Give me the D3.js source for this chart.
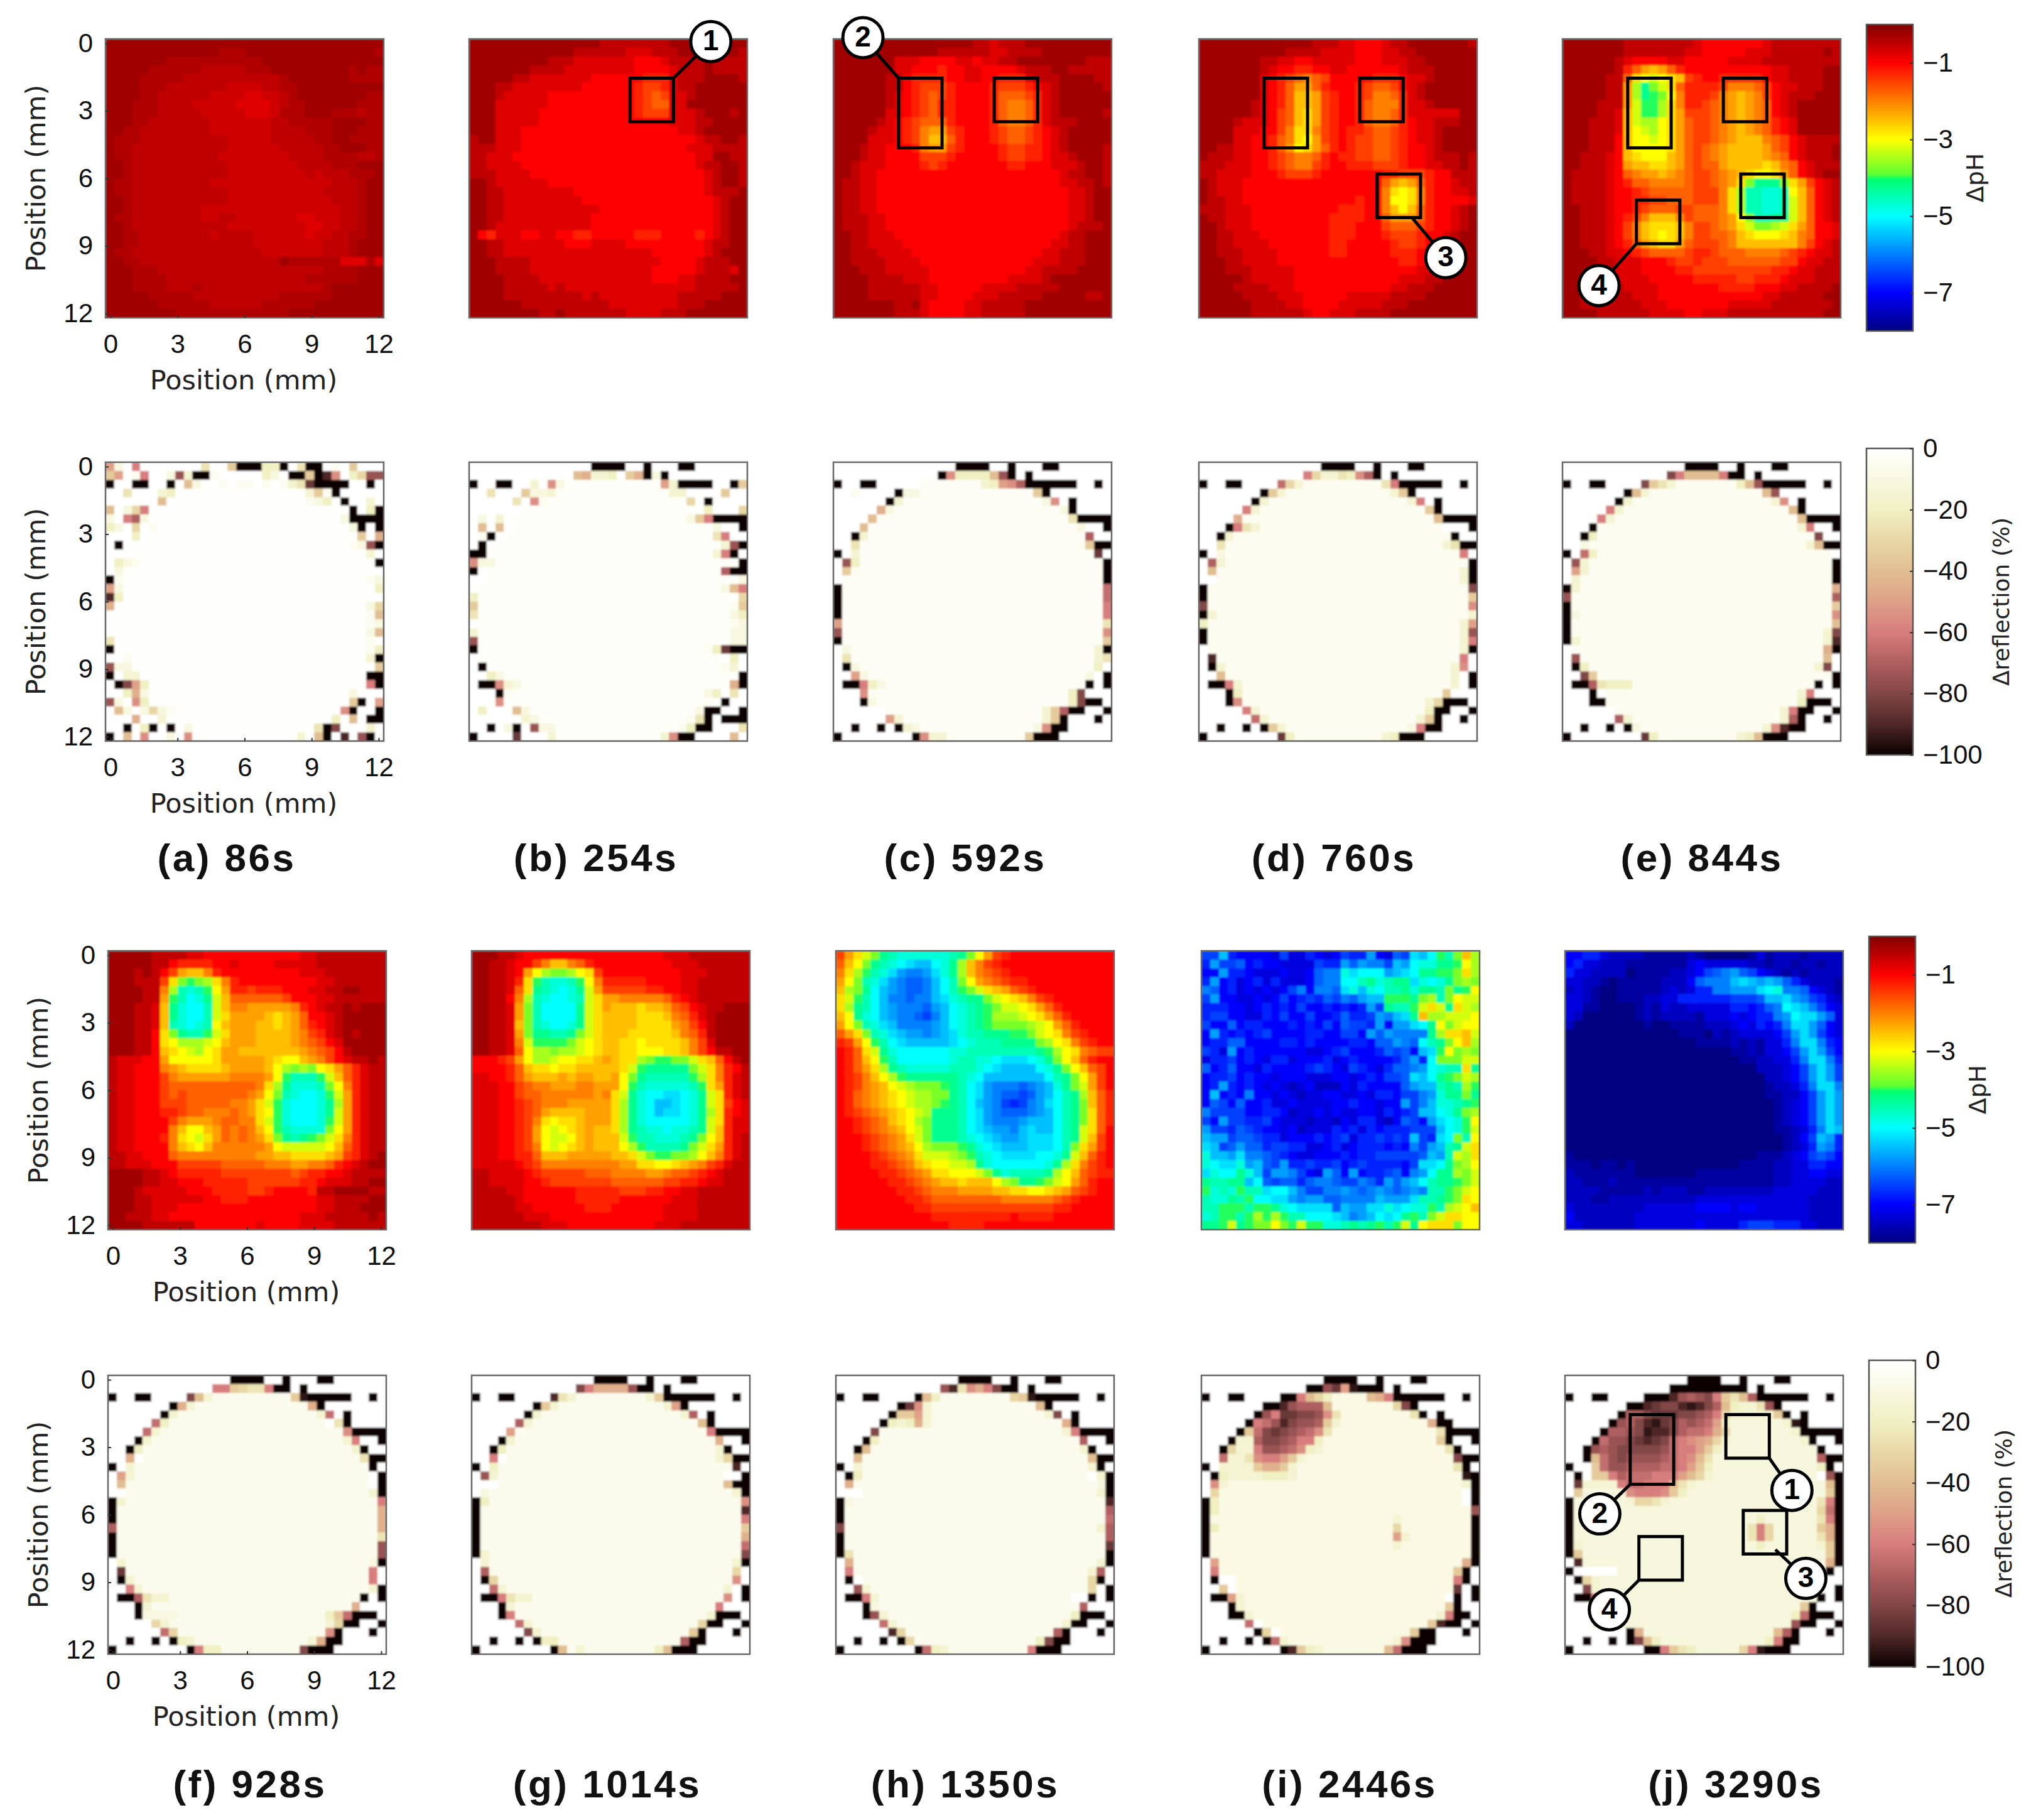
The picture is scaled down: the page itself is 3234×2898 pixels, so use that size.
<!DOCTYPE html>
<html><head><meta charset="utf-8">
<script src="https://cdnjs.cloudflare.com/ajax/libs/d3/7.8.5/d3.min.js"></script>
<style>html,body{margin:0;background:#fff}svg{display:block}</style></head><body>
<svg id="chart" width="3234" height="2898"></svg>
<script>
// pH maps: each character is a base-33 level (step size per panel in phSteps)
const ph_a=["22222222 22222222 22222222 22222222","22222222 22222333 22222222 22222223","22222223 33333333 33222222 22222222","22222333 33344444 33322222 22223233","22223333 34444444 44443222 22223333","22223334 44444455 55443322 22222222","22223344 44445555 66554322 22222233","22233344 44555556 66654332 22222333","22233344 44455555 66653332 22333433","22233444 44445555 55544333 33222233","22334444 44445555 55544443 33222333","23334444 44444455 55544444 33223333","23344444 44444455 55554444 43322233","23344444 44444555 55555444 43333443","22344444 44444455 55555544 44333222","22344444 44444455 55555554 54443332","23344444 44445555 55555555 55444322","23344444 44444455 55555555 54444322","22344444 44444455 55555555 55444322","22344444 44455555 55555555 55544322","23344444 44455445 55555566 55544322","22344444 44444455 55555556 65544322","22334444 44445444 45555556 55443322","22334444 44444444 45555555 54443222","23344444 44444444 44555555 54443222","22334444 44444444 44442333 33366636","22233344 44444444 44444444 43333222","22233334 44444444 44444443 33333222","22233334 44344444 44444444 43222222","22222333 33444444 44443333 33222222","22222233 33334444 44333333 22222222","22222222 33333333 33333222 22222222"];
const ph_b=["11111111 11111112 22222221 11111111","11111111 11112222 22333222 11111112","11111111 12223333 33344432 22212222","11111112 22233333 33344443 22212222","11111223 33333344 44445553 22211112","11122333 33333444 44456653 22111111","11123333 34444444 44456763 32111111","11133333 34444444 44456773 31111111","11133333 44444444 44456663 33211121","11133333 44444444 44444443 33221111","11133344 44444444 44444444 33211111","21133344 44444444 44444444 44322112","22233344 44444444 44444444 43332222","22333444 44444444 44444444 44331122","22333344 44444444 44444444 44322112","22233334 44444444 44444444 44432112","11233333 34444444 44444444 44432112","11223333 33334444 44444444 44432221","11223333 33333444 44444444 44443211","11223333 33333334 44444444 44443211","11223333 33333344 44444444 44443211","11233333 33333344 44444444 44443211","14533344 33445544 44455544 44543211","11223333 33344433 33444444 44432211","11223333 33333333 33333444 44432111","11122223 33333333 33333344 44322211","11122223 33333333 33333444 44322231","11112222 33333333 33333444 33222211","11112222 23233333 33333333 33222221","11112222 22222323 33333333 22222111","11111122 22222222 33333333 22211111","11111111 22122222 22333322 21111111"];
const ph_c=["11111111 11111111 22322211 11111111","11111111 11112222 22332222 11111111","11111113 33444433 43322111 11111222","11111113 34445443 34444322 21122222","11111122 45555443 34455532 22111122","11111122 45666544 44566654 32111112","11111123 45676544 44577765 32111111","11111123 45675544 44578875 32111111","11111133 45675544 44578875 32111112","11111234 56777544 44578875 32221111","11112334 56899654 44567765 43211111","11113334 568aa754 44567765 43211111","11123344 45899654 44456655 43211112","11123344 44666544 44456655 43321112","11233344 44565444 44445544 43332112","11233444 44444444 44444444 44322112","12233444 44444444 44444444 44332212","12233444 44444444 44444444 44433211","12233444 44444444 44444444 44433211","12233444 44444444 44444444 44433211","12223344 44444444 44444444 44433211","12223344 44444444 44444444 44432221","11223334 44444444 44444444 44322111","11223333 44444444 44444444 43322111","11222333 34444444 44444444 33222111","11222233 33444444 44444443 33222111","11122233 33344444 44444433 22221111","11112222 33344444 44443333 21111111","11112222 22334444 43333222 22111111","11112222 22334444 33322222 11111221","11111112 21344443 32222211 11111111","11111112 22344443 32222211 11111111"];
const ph_d=["11111111 11111222 33444322 11111112","11111111 11222233 33444332 21111111","11111112 23344333 33444333 22111111","11111112 34455443 34444443 22211111","11111113 45678764 44445554 33211111","11111113 45799754 44567764 32111111","11111113 457aa965 44568875 32111111","11111123 457aa965 44578885 33211111","11111123 467ab965 44578875 33333311","11112333 467ab965 44578875 43322211","11113334 468bb865 45567765 43321111","11113344 578bc965 45667765 43321111","11223344 579cb975 45667765 44321111","12223344 56788754 55667765 44322212","22233344 56788654 45556665 44332212","22333344 45666544 44444556 66544222","12333444 44444444 4444479a 97544322","12333444 44444444 444448bc b8544332","12233444 44444444 445448cc b8544443","22233344 44444444 555448ac a7544321","12233344 44444445 55544799 97544321","11233344 44444445 55444677 76544321","11223334 44444445 55444566 65443211","11223333 44444445 54444456 65443211","11222333 34444445 54444455 54432211","11122333 34444444 44444445 54432111","11122233 33344444 44444444 43322111","11111233 33344444 44444443 33221111","11112222 33344444 44444433 22211111","11111222 23334444 43333322 22111111","11111122 22334444 33333222 11111111","11111122 22223443 33222211 11111111"];
const ph_e=["11111112 22222223 44444443 22222222","11111112 22222233 44444333 22222212","11111123 44443344 44433332 22222222","11111125 79a97544 44444444 33222211","11111227 bcdcba65 44555554 33222211","11111229 ehfdb755 55688876 43322211","11111229 ehgfc855 5689a986 43222111","11112229 dggeb855 6789a987 43211111","1111223a dggeb966 6789a987 43211111","1112223a deecb976 6789a987 54311111","1112223a cdecb976 6789a987 54311111","1112224a ccdcb976 6789aaa8 76432222","1112224a ccccb976 789aaaa9 76432221","1122234a bccca976 789aaaa9 87432221","11222349 aabba976 779aaaab a8743222","12222347 899a9876 6789abcc b9743211","12222345 77888876 6789bfhh hfb96432","12222344 56777776 668beiij jica7432","12222344 55667776 668beiij jida7432","11222344 56777667 778beiij jida7432","11222345 68aaa867 7789cfii hhda7432","11222346 8abbba86 6789bdff edb97443","11222346 8abcba86 6778abcc cba87443","11222345 79abb976 6678aaaa aaa86432","11122334 56777765 56777888 87654332","11112233 34445665 66677777 76643322","11122233 34444556 66666666 55433222","11222233 33444445 55556655 54333222","11222223 33344444 44555544 43322221","11222222 33344444 44444443 32222211","11222222 23334444 44433333 22222221","11112222 22333344 33322222 22222211"];
const ph_f=["11111222 23344444 44444433 22222222","11111224 55554434 44433333 22222222","11121246 9aa85444 44444433 32222222","1112226b fgfeb854 44444444 33222222","1111228e ijigc955 65554443 32211222","1111229g ikjhda77 77776444 33222222","111223ah jkkida88 99999854 32212111","111223ah jkkidb99 99aba974 43211111","111223ai jkjica99 9aaba975 43211111","111224bf hiigdb99 9aaaa986 53212111","111224bc eeedca99 9aaaa987 64311111","111224ab cdecb99a aaaaaa98 76421111","2333449c ccccb999 99abcca9 86432212","23344489 abbbba99 99acefef cb975322","23344468 99999988 889cgiii gda75322","23344467 77777777 78behjjj ifc85322","23344467 67777777 89cfijkk jgd95322","23344466 67777788 9bdgjkkk jhe95322","23344455 67788878 9bcgjkkk jhd95322","23344446 89998778 8bdgjkkk jgd95322","23344448 acca9787 8acgijjj jfc95322","23344458 bcdb9787 89bfhihg fdb85322","23344448 abca8888 889cdddd dca75322","22334447 88888888 899aabbb ba965321","22333444 66666777 77888998 87543211","11112234 55555666 66666765 54432222","11112233 44455555 66666655 43332211","11123333 34445555 66544445 22111122","11122333 33344555 44444444 33222211","11122333 44444444 44444444 33222111","11222334 44444444 44444433 32222212","11112222 22444444 43444433 33222222"];
const ph_g=["11122344 44444444 44444433 32222222","11223446 8aa87544 44444443 33222222","1122349c effecb64 44444444 33322222","112235bg ijjigc85 55554444 33222222","112237bh ijkjhd96 66665544 33222222","112248ei jkkjidb9 98888875 43222222","112239fi kkkkhdb9 aaabaa97 64322111","112239fi kkkkhdba aaabbba8 75321111","11223afi jkkjhdba aaabbbb9 86421111","112239fh hiihfdba aabbbbba 87521111","112238dg gggfdcba abbcbbbb a8631111","112237ce efeedcba abbcccbb a8642211","44456 9ce edccbba9 abbefggf fdba7421","444457ab bcbbaaaa abdghhhh hfdb8542","3344579a aa9a99aa 9cfhiiii igeb8532","33344678 89998899 9cgijjjj jigb9532","33344677 88888898 bdhjkkll kjhdb532","33344567 88899999 behjkmml kjhdb643","33344567 9aaaa999 behjkmll kjheb543","33344568 bcbba999 behjkkkk kjhdb533","33344569 cdcba9aa behijjkj jihda533","33344569 cddca9aa adgiijjj ihfca532","33344568 cdcba9aa acegiiii hfdb9532","33344557 aaa99999 aabdfggf feca8532","33333456 88888888 899bbccb a9865322","22333345 66666777 88889987 76543222","22333344 56666666 77777766 55433222","22223344 44445555 56665544 33222222","22222344 44445555 54444443 33222222","22222334 44444555 44444433 33222222","22222233 34444444 44444433 33222222","22222222 33344444 44444333 22222222"];
const ph_h=["69bdfhij jjjjjihf c9654444 44444444","7acfhijk lmmkjhea 86544444 44444444","8begijln oonljhea 87654444 44444444","9cfijlno ppomkifc 98765544 44444444","aefhkmno ppomkigf dba97654 44444444","bdgikmoo poomljih hfdcba86 54444444","behikmno oopnmkji hgfddcb9 75444444","achjkmno opqomkji hgeeedcb 97544444","9cfijlmo ooonmkji hgffffed c9754444","79bfijlm nnonmlji ihhhggfd cb865444","569cgikl mmmmmlkj iiihhhhf ecb86544","457bdhjk kkkkkjji iiiiiiih gecb8766","457acgik kkkkkjii jjklllkj hfca7544","4579behi jjjjjiii jklmmmmk jhfca764","456 8aceg hhhhhhij kmmmmmmm kihfc964","45689acd efffghik lnooopon mjhfd964","45789abc deeffhik lnoppqpn mkihea75","45789abc deefghik mnoqrqon lkihfa75","456789ab cdehhhik lnopppon mkihfb75","4456 78ab cefhhhik lnooonmm mkihfb75","4456789a cdfhhhik lmnnomlm mkihdb74","44456789 bdfhhhij klmnnmll lkihda64","44456789 acefffgh jklmmmll lkifb964","44445678 9bdddefg ijkllllk kjhda754","44445567 8abccdde hjkkkkkk jheb8654","44444556 789bbccc dfhjiiii heca7655","44444455 6789aaba aacefhhg fdc97544","44444445 56788899 99aabbcc ba976544","44444444 55677777 77788888 87654444","44444444 45566666 66666666 65544444","44444444 44455555 55554555 54444444","44444444 44444555 54444444 44444444"];
const ph_i=["qqmrssss tqttrsts qrrnstpq lmkgifae","rnqqpsrs sttttqrr npnooqmn kjjhhgce","ssnrrstt tsttspoo jlkkknml khhggfbe","rnsrtsrt rtttspoo kkihjihh ljkjhfef","opsrtsts tsqosoop ljmjkiih jhhifhgc","qnssttst sqsrqrpq opnmmggg hfeifcdd","rrrsstsr srsqssrs rsrnqhii gdbdhbde","rqqssttr sqssqssr prrqnoml haeedddc","qsspsrrs ssrsrsqs pqqrnsnn lkhcfdcc","snrsrsrq ssssrrss qqsnpnoo oohebbad","srrppsss srrsrsss srrsppno pkihfcae","qrtnsrss ssssttsrq sssrpqps mlgcfeff","trrqsrst rrtsssrt srssssrp nrkfffdd","psrpsstr ssssrqrs tqrstrpp onkjiibh","srrqsrss tsssttts stsrsqqp lmkhgfde","srnrsrst stutsuuu strssssp nmmihieg","smsrsoss tstuttss ttstrrsq qonjhhfh","spqspssr ttstttts srsstssn qomjjihg","oqqqqssr rsuttsts ttsstrsr qmmkjhfe","qsnqqrrq stttuttu strrtusp qsnlkjgc","nqqrpqrs stsutttr srtrsrrr qqqmkjgd","mnnqppqr rtsssrsr qtrrqrqr mqrlkfic","lmqpnppr qqrrttsr tsrrrsrs oqnmihdb","jmmnloop qrsttsss rsrrqqqq qpmnideb","jklljnmp qnrrqrrq srqrrrrs qllkhfec","ljkkhjmq nnoqstnp snsrrqps onkhhefd","hiihhmkp qpprpoop qqoprnpn mkihhgfd","gjijgiil kkmoqqoo noponopo noiigfdc","ijjhigkk llnonnpp oooomnnn liihgfbc","iigggigg hjkllllp mnnlljlk jjgiedca","jiggigeg egiikkkl monmklkh gifdbbcc","hhgdhgff cfgdggjj ihihgigd hcbbbfcc"];
const ph_j=["ssrrtuuu uvvvvvuv wwwwwvtv uuuvuuuu","srttuuuv vvvvvvts tttttuuv uuvuuvuu","rttuuuuw vvvvuuts qponpqst uvuvuuuu","ttuuvwvv vvvuuusp ooomlmnm nprtuuuv","utuvwwvv vvvututr roonnnlk joopstuv","ttuvwwvv vuuttrrr rrrqqqpm mlnoqrtu","ttvvwwww vuvtuutt tttrrsrp oklmoqst","tuwwwwww vuvuuuuv tttstsrr onkllnpt","uwwwwwww wvwwvvvv uuutstrs rollnpst","wwwwwwww wwwwwvvv wuvutttt sqnlnqst","wwwwwwww wwwwwwwv vvvuvuvt trollors","wwwwwwww wwwwwwww wwwvvuvt tsqnlnqs","wwwwwwww wwwwwwww wwwwvvuu ttrollor","wwwwwwww wwwwwwww wwwwwwuu utsqnlnq","wwwwwwww wwwwwwww wwwwwwwu utsqnlnq","wwwwwwww wwwwwwww wwwwwwwv uutrollo","wwwwwwww wwwwwwww wwwwwwwv vuusqnln","wwwwwwww wwwwwwww wwwwwwww vutsqnln","wwwwwwww wwwwwwww wwwwwwww vutsqnln","wwwwwwww wwwwwwww wwwwwwww vutsqnln","wwwwwwww wwwwwwww wwwwwwww vvutrolm","wwwwwwww wwwwwwww wwwwwwww wvusqmnr","wwwwwwww wwwwwwww wwwwwwww wvutrnor","vwwwwwww wwwwwwww wwwwwwvv vutsqpqs","vvvwvvwv wwwwwwww wwwwvvvv uuttrrss","uvvvvvvv wwwwwwwv vvvvvvvv uuttsstt","uuvvvuvv vvvvvvvv vvvvvvvv uuttttuu","uuuuvvvv vuvuuuvv uuuuuuuu tttttuuu","uuuvvuuu uuuuuuut tttttttt ttttuuuu","tuuuuuuu utttttts ssstsstt ttttuuuu","suuuuuuu tttttttt tttttttt ttttuuuu","ttuuuuuu ttttttts ttttrqqq rrrttuuu"];

// Reflection maps: base-21 level, 5 % per step; k = -100, 0 = none.
// A "|" means the cells between the left and right parts hold that panel's plain interior level.
const refl_a=["a20c00000005007kkk44k05kk0107000","7a01c002f3kk100000420kk7kib046ff","k00kk00k0820010110101 35hkkkk00k0","00500034|371k00000","000000800|1240k0030","8026c|k04k","20ce2|2kkkk","420601|2k0k","0004|709","0k|12fk","|30","0421|k","02|0","k1|12","a2|04","i4|0","9|26","|18","|12","|28","5|10","k|14","001|3k","f22|07","k033|kk","0kga4|ck","00492|2000","f20b4|7k0a","08202621|bk00k","0009003|4080kk","00k04k0k02|5kg00030","k080b0020b|308k0i0fk0"];
const refl_b=["00000000000000kkkk00k000kk000000","00000000000089334079k2k000000000","k00kk0030b2|a3kkkk00k7","0050007223|330000700","0000050b1|60k0000","000000|40006","02030|27ckkkk","08080|200k","01k0|5c00","0k0|3fk","kk|3ck0","b22|k","k0|ekk","00|2","0|28c","4|06","7|17","5|24","0|12","3|22","f|22","k|14hkk","0|040","0k|130","0042|k","0kkb32|9k","000k1|24050","000b|k00","0400082|2kk00k","00000032|15k0kkk","00k02k0f22|14kk0005","k0000h0003|3bkk000080"];
const refl_c=["00000000000000kkkk00k000kk000000","000000000000kb44448fk0k000000000","k00kk00000|34abekkkkkk00k0","0010000k22|7k0000000","000000k3|2b0k0000","0000092|2k0000","00008|5kkkk","0008|200k","00k3|e00","005|17kk","k03|h0","0f4|k","071|k","0|k","k|d","k|d","k|c","k|c","a|5","f|b","k|7","02|3k","05|35","0k2|40","00a2|20k","0kkc42|k0k","000b1|4g000","000k2|4gkk0","000000|37ekk00k","000000a3|37k000k0","00k00k0k32|2bkk00000","k00000000kb33|7kkk000000"];
const refl_d=["00000000000000kkkk00k000kk000000","000000000000c633 54bek0k000000000","k00kk0000d63|5ckkkkk00k0","0000000k73|37k0000000","000000k3|3c0k0000","00000c3|7k0000","00009|8kkkk","000kc53|000k","00k3|k00","005|35kk","k02|c0","0e3|k","08|3k","00|3k","k|g","k|7","g|b","k3|3","4|3a","k|3f","k|3c","0|3k","0i|c0","0k3|3b0","008|30k","0kkc3|30k","000k4|7000","000kb|36kkk0","00000c3|4kk00k","000000d3|37k00k0","00k00k0k73|2ckk0000","k00000000h4|34kkk000000"];
const refl_e=["00000000000000kkkk00k000kk000000","000000000000gc8888ckk0k000000000","k00kk0000g753|48fkkkkk00k0","0000000k83|8f0000000","000000k3|3b0k0000","00000c3|8k0000","0000c3|8kkkk","000k|3c00k","00k4|g00","002|38kk","k0d4|0","0f3|k","0a3|k","03|k","k3|9","f|e","k|7","k2|b","k|8","k|3g","k3|3i","0|9k","0f|80","0k4|3g0","00g7|k","0kke5444|k0k","000k0|3c000","000kk|4kkk0","000000|3ckk00k","000000e3|3ek00k0","00k00k0k2|3bikk0000","k00000000h4|348kkk000000"];
const refl_f=["00000000000000kkkk00k000kk000000","000000000000cc7655ckk0k000000000","k00kk0000g83|7jkkkkk00k0","0000000k93|9k0000000","000000k3|3d0k0000","00000d4|05k0000","0000d3|bkkkk","000k3|3c00k","00k4|3k00","0090|5kk","k03|k0","0a3|0k","08|0k","00|3k","k3|c","k|9","k|9","e|9","k|5","k|f","k|f","03|2k","0h|c0","0k3|c0","00c3|3k","0kke533|k0k","000k3|9000","000k2222|47dkkk0","0000063|36kk00k","000000d6|bk000k0","00k00k0k43|39kk00000","k00000000kc44|gkkk000000"];
const refl_g=["00000000000000kkkk00k000kk000000","000000000000gc9999fkk0k000000000","k00kk0000i53|37kkkkkk00k0","0000000k73|3ak0000000","000000k3|3e0k0000","00000e3|8k0000","0000a1|ckkkk","000k3|900k","00k4|3k00","00c0|36kk","k04|i0","0f3|00k","000|8kk","02|3k","k4|b","k|i","k|c","k|7","k|9","k|d","k3|g","03|3k","0e|60","0k6|b0","00d3|30k","0kkc533|b0k","000k3|c000","000kc|3kkk0","00000d3|6kk00k","000000g3|7k000k0","00k00k0k44|ekk00000","k00000000k813|48kkk000000"];
const refl_h=["00000000000000kkkk00k000kk000000","000000000000fi5b9cgkk0k000000000","k00kk0000k84|67jkkkkk00k0","0000000khb3|8k0000000","000000k77a3|3g0k0000","00000k43493|9k0000","0000g|3ckkkk","000k4|e00k","00k8|3k00","008|8kk","k03|3k0","0k4|03k","09|2k","000|3k","k2|i","k|e","k|d","g|3e","k|e","k|h","k5|k","09|3k","0c|3e0","0k0|6k0","00f3|60k","0kkc3|00k0k","000k2|e000","000kf3|4kkk0","00000d3|3kk00k","000000i6|ek000k0","00k00k0k61|4gkk00000","k00000000kd43|ckkk000000"];
const refl_i=["00000000000000kkkk00k000kk000000","000000000000kkfhajkkk0k000000000","k00kk0000kkc864|89ckkkkkk00k0","0000000kkifeee8|6gk0000000","000000kfchhggfb5|5k0k0000","00000kcdfigffe73|9kk000","0000k7dghgfedb5|5kkkk","000k33eggfecc4|7k00k","00k633cffedb43|5k00","00d335bcca73|gkk","k0333379973|5k0","0k433334443|jk","0b3|3k","06|0k","k4|0k","k4|f","k|3........k","k4|6........k","k|a3.......k","k|3........k","k|k","0a|9k","0c|7k0","0k00|ck0","0070|h0k","0kka3|0k0k","000k3|7k00","000kk3|3ckk0","00000d0|7ikk0k","000000k60|7kk000k0","00k00k0kd3|3bkkk00000","k00000000ki743|8dkkk000000"];
const refl_j=["00000000000000kkkk00k000kk000000","000000000000kkkkkkkkk0k000000000","k00kk0000kkkifefgc758ekkkkkk00k0","0000000kkihggijige84335fk0000000","000000keeghhhggfec6333337k0k0000","00000kfegijhgefeda4|3jk0000","0000keefgjiigeddc96|3kkkkk","000kdffghihgdcba963|3k00k","00kfefgggggfdcca74|k00","00k8dfgffffedcb85|ekk","k007dffeeeeddca74|4k0","0k077cedddccca863|0fk","0h3333cddccc853|8k","0722222bcccb74|7k","k2.....36653|5ck","k2|6dk","k2|.4......5ck","k|5c6.....79k","k|5c6.....59k","k3|.4......37k","k7|7k","0i|9k","k00000|k0","0k63|000","00g3|00k","0kkc|k0k","000|7k000","000|4dkkk0","000|fkk00k","0000000k9|8ek000k0","00k00k0kg84|4ckk00000","k00000000kkc754|6cjkkk000000"];

const phMaps=[ph_a,ph_b,ph_c,ph_d,ph_e,ph_f,ph_g,ph_h,ph_i,ph_j];
const phSteps=[0.125,0.25,0.25,0.25,0.25,0.25,0.25,0.25,0.25,0.25];
const reflMaps=[refl_a,refl_b,refl_c,refl_d,refl_e,refl_f,refl_g,refl_h,refl_i,refl_j];
const reflBase=[-1,-2,-3,-5,-5,-6,-6,-6,-9,-11];
const titles=["(a) 86s","(b) 254s","(c) 592s","(d) 760s","(e) 844s","(f) 928s","(g) 1014s","(h) 1350s","(i) 2446s","(j) 3290s"];
const axisTicks=[0,3,6,9,12];
const phTicks=[-1,-3,-5,-7];
const reflTicks=[0,-20,-40,-60,-80,-100];
const phStops=[0,-1,-3,-3.9,-4.05,-5,-7,-8];
const phColors=["#800000","#ff0000","#ffff00","#60ff30","#00ff70","#00ffff","#0000ff","#000080"];
const reflStops=[0,-5,-10,-20,-30,-40,-50,-60,-70,-80,-90,-100];
const reflColors=["#ffffff","#fcfcf0","#f8f8e1","#f0f0c3","#e8d7a5","#e1be91","#dea087","#d77d7d","#af5f5f","#824646","#502828","#0a0000"];
const boxes={1:[18.5,4.5,5,5],2:[7.5,4.5,5,8],3:[20.5,15.5,5,5],4:[8.5,18.5,5,5]};
// panel key "row-col", boxes shown
const boxUse=[["0-1",[1]],["0-2",[2,1]],["0-3",[2,1,3]],["0-4",[2,1,3,4]],["3-4",[2,1,3,4]]];
// callouts in cell units: panel, number, circle centre, leader start
const callouts=[["0-1",1,27.8,0.3,23.5,4.5],["0-2",2,3.4,-0.15,7.5,4.5],["0-3",3,28.4,25.1,24.5,20.5],["0-4",4,4.2,28.3,8.5,23.5],["3-4",1,26.1,13.2,23.5,9.5],["3-4",2,4,15.9,7.5,12.5],["3-4",3,27.7,23.3,24.2,20],["3-4",4,5.1,26.9,8.5,23.5]];

const N=32,W=443,H=444;
const rowY=[62,736,1514,2190];
const colX=[[168,747,1327,1909,2488],[172,751,1331,1913,2492]];
const cbX=[2972,2972,2976,2976],cbY=[39,714,1491,2166],cbW=74,cbH=488;
const titleY=[1371,2846];
const titleX=[[361,949,1537,2124,2710],[398,967,1537,2149,2764]];

const phColor=d3.scaleLinear().domain(phStops).range(phColors).clamp(true);
const reflColor=d3.scaleLinear().domain(reflStops).range(reflColors).clamp(true);

function expand(row,fill){
  let s=row.replace(/ /g,"");
  if(s.includes("|")){const [l,r]=s.split("|");s=l+".".repeat(Math.max(0,N-l.length-r.length))+r;}
  while(s.length<N)s+=s[s.length-1]||fill;
  return s.slice(0,N);
}
const decodePh=(m,step)=>m.map(r=>Array.from(expand(r,"0"),c=>parseInt(c,33)*-step));
const decodeRefl=(m,base)=>m.map(r=>Array.from(expand(r,"."),c=>c==="."?base:parseInt(c,21)*-5));

const svg=d3.select("#chart");
const defs=svg.append("defs");
defs.append("filter").attr("id","soft").attr("x","-2%").attr("y","-2%").attr("width","104%").attr("height","104%")
  .append("feGaussianBlur").attr("stdDeviation",1.5);

const SANS="'DejaVu Sans'",TICK="'Liberation Sans'";
const panels={};
function drawPanel(r,c,values,color){
  const x0=colX[Math.floor(r/2)][c],y0=rowY[r],id=`p${r}${c}`;
  defs.append("clipPath").attr("id",id).append("rect").attr("x",x0).attr("y",y0).attr("width",W).attr("height",H);
  const xc=d3.scaleBand().domain(d3.range(N)).range([x0,x0+W]);
  const yc=d3.scaleBand().domain(d3.range(N)).range([y0,y0+H]);
  const g=svg.append("g").attr("clip-path",`url(#${id})`).append("g").attr("filter","url(#soft)");
  g.selectAll("g").data(values).join("g").selectAll("rect").data((d,i)=>d.map((v,j)=>({v,i,j}))).join("rect")
    .attr("x",d=>xc(d.j)).attr("y",d=>yc(d.i)).attr("width",xc.bandwidth()+.6).attr("height",yc.bandwidth()+.6)
    .attr("fill",d=>color(d.v)).attr("shape-rendering","crispEdges");
  svg.append("rect").attr("x",x0).attr("y",y0).attr("width",W).attr("height",H).attr("fill","none").attr("stroke","#666").attr("stroke-width",2.5);
  panels[`${r}-${c}`]={x:d3.scaleLinear([0,N],[x0,x0+W]),y:d3.scaleLinear([0,N],[y0,y0+H])};
  if(c===0){
    const xs=d3.scaleLinear([0,12],[x0+8,x0+W-8]),ys=d3.scaleLinear([0,12],[y0+7,y0+H-7]);
    const fmt=d3.format("d");
    const ax=svg.append("g").attr("transform",`translate(0,${y0+H})`).call(d3.axisBottom(xs).tickValues(axisTicks).tickFormat(fmt).tickSizeInner(-5).tickSizeOuter(0).tickPadding(26));
    const ay=svg.append("g").attr("transform",`translate(${x0},0)`).call(d3.axisLeft(ys).tickValues(axisTicks).tickFormat(fmt).tickSizeInner(-5).tickSizeOuter(0).tickPadding(20));
    [ax,ay].forEach(a=>{a.select(".domain").remove();a.selectAll("line").attr("stroke","#333").attr("stroke-width",2);
      a.selectAll("text").attr("font-family",TICK).attr("font-size",42).attr("fill","#111");});
    svg.append("text").attr("x",x0+220).attr("y",y0+H+102).attr("text-anchor","middle").attr("dominant-baseline","middle")
      .attr("font-family",SANS).attr("font-size",43).attr("fill","#222").text("Position (mm)");
    svg.append("text").attr("transform",`translate(${x0-108},${y0+H/2}) rotate(-90)`).attr("text-anchor","middle").attr("dominant-baseline","middle")
      .attr("font-family",SANS).attr("font-size",43).attr("fill","#222").text("Position (mm)");
  }
}
for(let b=0;b<2;b++)for(let c=0;c<5;c++){
  const k=b*5+c;
  drawPanel(b*2,c,decodePh(phMaps[k],phSteps[k]),phColor);
  drawPanel(b*2+1,c,decodeRefl(reflMaps[k],reflBase[k]),reflColor);
  svg.append("text").attr("x",titleX[b][c]).attr("y",titleY[b]).attr("text-anchor","middle").attr("dominant-baseline","middle")
    .attr("font-family","'Liberation Sans'").attr("font-weight",700).attr("font-size",62).attr("letter-spacing",3.5).attr("fill","#111").text(titles[k]);
}

function colorbar(r,color,domain,ticks,label,lx,size){
  const x=cbX[r],y=cbY[r];
  const s=d3.scaleLinear().domain(domain).range([y,y+cbH]);
  svg.append("g").selectAll("rect").data(d3.range(cbH)).join("rect")
    .attr("x",x).attr("y",d=>y+d).attr("width",cbW).attr("height",1.2).attr("fill",d=>color(s.invert(y+d+.5))).attr("shape-rendering","crispEdges");
  svg.append("rect").attr("x",x).attr("y",y).attr("width",cbW).attr("height",cbH).attr("fill","none").attr("stroke","#555").attr("stroke-width",2.5);
  const a=svg.append("g").attr("transform",`translate(${x+cbW},0)`)
    .call(d3.axisRight(s).tickValues(ticks).tickFormat(d=>d<0?"\u2212"+(-d):""+d).tickSizeInner(-5).tickSizeOuter(0).tickPadding(16));
  a.select(".domain").remove();
  a.selectAll("line").attr("stroke","#333").attr("stroke-width",2);
  a.selectAll("text").attr("font-family",TICK).attr("font-size",42).attr("fill","#111");
  svg.append("text").attr("transform",`translate(${x+cbW+lx},${y+cbH/2}) rotate(-90)`).attr("text-anchor","middle").attr("dominant-baseline","middle")
    .attr("font-family",SANS).attr("font-size",size).attr("fill","#222").text(label);
}
[0,2].forEach(r=>colorbar(r,phColor,[0,-8],phTicks,"\u0394pH",101,38));
[1,3].forEach(r=>colorbar(r,reflColor,[0,-100],reflTicks,"\u0394reflection (%)",143,36));

boxUse.forEach(([key,list])=>{
  const p=panels[key];
  list.forEach(n=>{const [c,rw,w,h]=boxes[n];
    svg.append("rect").attr("x",p.x(c)).attr("y",p.y(rw)).attr("width",p.x(c+w)-p.x(c)).attr("height",p.y(rw+h)-p.y(rw))
      .attr("fill","none").attr("stroke","#000").attr("stroke-width",5);});
});
callouts.forEach(([key,n,cx,cy,fx,fy])=>{
  const p=panels[key];
  svg.append("line").attr("x1",p.x(fx)).attr("y1",p.y(fy)).attr("x2",p.x(cx)).attr("y2",p.y(cy)).attr("stroke","#000").attr("stroke-width",5);
  svg.append("circle").attr("cx",p.x(cx)).attr("cy",p.y(cy)).attr("r",32).attr("fill","#fff").attr("stroke","#000").attr("stroke-width",5);
  svg.append("text").attr("x",p.x(cx)).attr("y",p.y(cy)+2).attr("text-anchor","middle").attr("dominant-baseline","middle")
    .attr("font-family","'Liberation Sans'").attr("font-weight",700).attr("font-size",46).attr("fill","#000").text(n);
});
</script></body></html>
